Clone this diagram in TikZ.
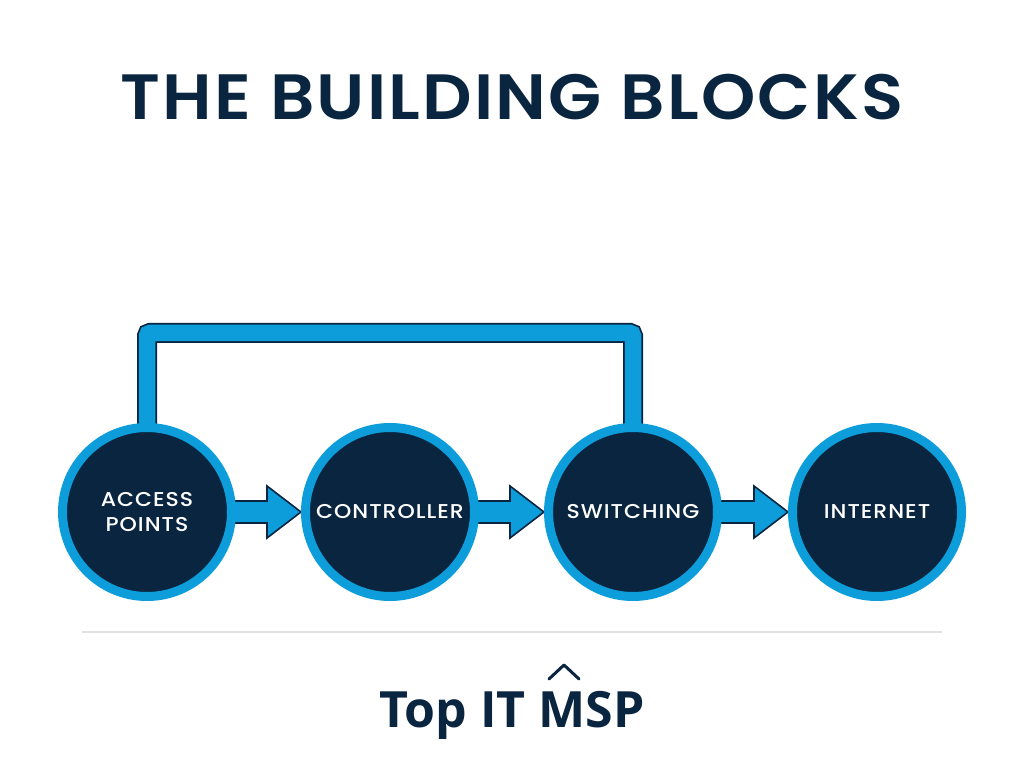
\documentclass[tikz,border=0pt]{standalone}
\usepackage{fontspec}
\setmainfont{Poppins}
\newfontfamily\titlefont{Poppins SemiBold}[FakeStretch=1.08, LetterSpace=3.5]
\newfontfamily\labelfont{Poppins Medium}[FakeStretch=1.1, LetterSpace=5]
\newfontfamily\logofont{Open Sans}
\usepackage{xcolor}
\definecolor{navy}{HTML}{0A2540}
\definecolor{sky}{HTML}{0C9DDA}
\definecolor{rule}{HTML}{E2E2E2}
\usetikzlibrary{positioning}
\pgfdeclarelayer{background}
\pgfsetlayers{background,main}

\begin{document}
\begin{tikzpicture}[
  x=1pt, y=1pt,
  block/.style={circle, draw=sky, line width=9pt, fill=navy, inner sep=0pt,
    minimum size=169pt, align=center, text=white,
    font=\labelfont\fontsize{20}{25}\selectfont},
  fatarrow/.style={draw=navy, line width=1.6pt, fill=sky, line join=miter},
  loopback/.style={draw=navy, line width=20pt, rounded corners=3pt},
  loopfill/.style={draw=sky, line width=16.5pt, rounded corners=3pt}
]
\useasboundingbox (0,0) rectangle (1024,766);
\node[text=navy, font=\titlefont\fontsize{64}{70}\selectfont] (title) at (512,669) {THE BUILDING BLOCKS};

\node[block] (ap) at (147,254) {ACCESS\\POINTS};
\node[block] (co) at (390,254) {CONTROLLER};
\node[block] (sw) at (633,254) {SWITCHING};
\node[block] (in) at (877,254) {INTERNET};

\begin{pgfonlayer}{background}
\fill[white] (0,0) rectangle (1024,766);
\coordinate (top) at (390,433);
\draw[loopback] (ap.center) |- (top) -| (sw.center);
\draw[loopfill] (ap.center) |- (top) -| (sw.center);
\foreach \a/\b in {ap/co, co/sw, sw/in} {
  \draw[fatarrow] ([shift={(-15,11)}]\a.east) -- ([shift={(-34,11)}]\b.west)
    -- ([shift={(-34,26)}]\b.west) -- (\b.west) -- ([shift={(-34,-26)}]\b.west)
    -- ([shift={(-34,-11)}]\b.west) -- ([shift={(-15,-11)}]\a.east) -- cycle;
}
\end{pgfonlayer}

\coordinate (rulel) at (82,134);
\coordinate (ruler) at (942,134);
\draw[rule, line width=1.2pt] (rulel) -- (ruler);

\node[anchor=base, text=navy, font=\logofont\bfseries\fontsize{50}{56}\selectfont] (logo) at (512,39) {Top IT MSP};
\draw[navy, line width=3pt, line cap=round, line join=round] (549,87) -- (564,101) -- (579,87);
\end{tikzpicture}
\end{document}
